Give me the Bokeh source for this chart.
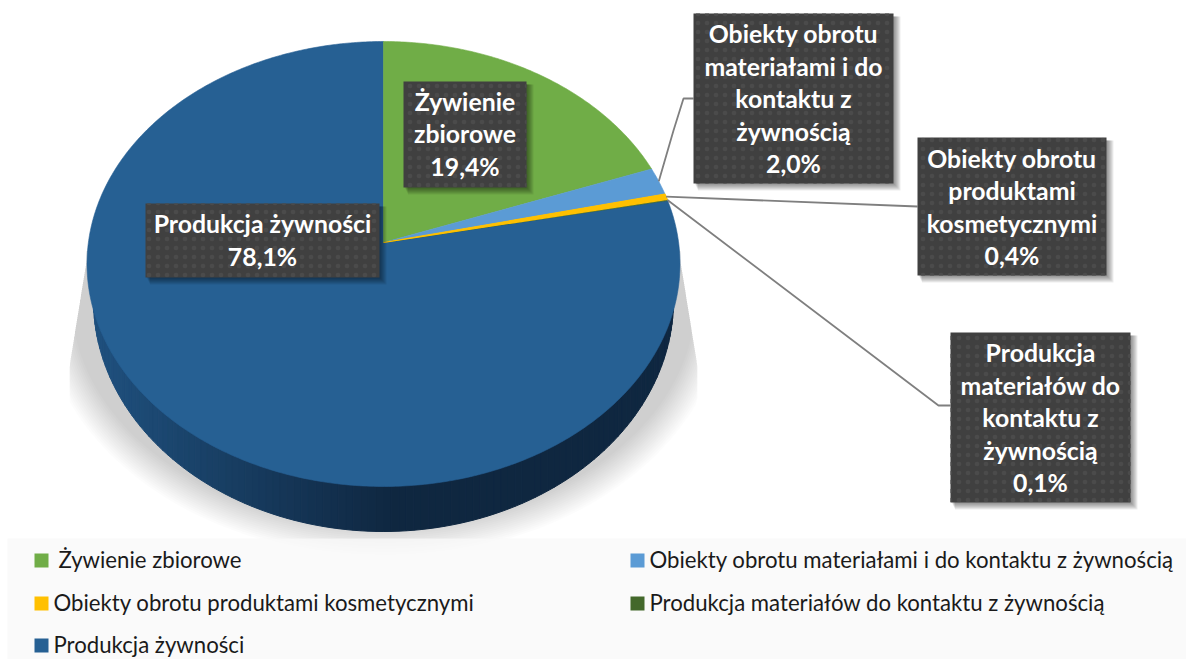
import numpy as np
from bokeh.plotting import figure
from bokeh.embed import file_html
from bokeh.resources import INLINE
from bokeh.core.properties import value

# --- data ---
categories = ["Żywienie zbiorowe", "Obiekty obrotu materiałami i do kontaktu z żywnością",
              "Obiekty obrotu produktami kosmetycznymi", "Produkcja materiałów do kontaktu z żywnością",
              "Produkcja żywności"]
shares = [19.4, 2.0, 0.4, 0.1, 78.1]
colors = ["#70ad47", "#5b9bd5", "#ffc000", "#43682b", "#266093"]
percent_labels = ["19,4%", "2,0%", "0,4%", "0,1%", "78,1%"]
label_lines = [["Żywienie", "zbiorowe"],
               ["Obiekty obrotu", "materiałami i do", "kontaktu z", "żywnością"],
               ["Obiekty obrotu", "produktami", "kosmetycznymi"],
               ["Produkcja", "materiałów do", "kontaktu z", "żywnością"],
               ["Produkcja żywności"]]

# --- layout (in reference pixels) ---
W, H = 1186, 659
p = figure(width=W, height=H, x_range=(0, W), y_range=(H, 0),
           output_backend="svg", toolbar_location=None, min_border=0,
           background_fill_color="white", border_fill_color="white")
p.axis.visible = False
p.grid.visible = False
p.outline_line_color = None

APEX_X, APEX_Y = 383.0, 242.0
K, A, B = 0.0966, 220.4, 295.1

def project(theta):
    u, v = np.sin(theta), np.cos(theta)
    d = 1 + K * v
    return APEX_X + B * u / d, APEX_Y - A * v / d

# shadow under the pie
def shadow_limit(y, x0, x1):
    t = np.clip((y - 260) / 105, 0, 1)
    return x0 + (x1 - x0) * t

ts = np.linspace(0, 2 * np.pi, 240)
levels = np.linspace(15, -15, 16)
for e in levels:
    sx = 383 + (327 + e) * np.cos(ts)
    sy = 300 + (241 + e) * np.sin(ts)
    sy = np.maximum(sy, 250)
    lo = shadow_limit(sy, 86, 69)
    hi = shadow_limit(sy, 680, 697)
    sx = np.clip(sx, lo, hi)
    p.patch(sx, sy, fill_color="black", fill_alpha=0.0128, line_color=None)

# legend band
p.quad(left=7, right=W, top=538, bottom=H, fill_color="#f8f8f8", fill_alpha=0.78, line_color=None)

# side of the pie: strips with a horizontal shade
RX2, RY2, CY2 = 290.0, 231.0, 300.0
edges = 383 - RX2 * np.cos(np.linspace(0, np.pi, 121))
bots = CY2 + RY2 * np.sqrt(np.clip(1 - ((edges - 383) / RX2) ** 2, 0, 1))
c0 = np.array([0x1f, 0x50, 0x7e]); c1 = np.array([0x0f, 0x27, 0x40])
xs_s, ys_s, cols = [], [], []
for j in range(len(edges) - 1):
    x0, x1 = edges[j], edges[j + 1]
    xs_s.append([x0, x1, x1, x0])
    ys_s.append([CY2, CY2, bots[j + 1], bots[j]])
    f = float(np.clip(((x0 + x1) / 2 - 95) / 300, 0, 1))
    cols.append("#%02x%02x%02x" % tuple(int(round(v)) for v in c0 + (c1 - c0) * f))
p.patches(xs_s, ys_s, fill_color=cols, line_color=cols, line_width=1.0)

# top face
cum = np.concatenate([[0], np.cumsum(shares)]) / sum(shares) * 2 * np.pi
for i in [4, 0, 1, 3, 2]:
    n = max(3, int((cum[i + 1] - cum[i]) * 90))
    th = np.linspace(cum[i], cum[i + 1], n)
    x, y = project(th)
    p.patch(np.r_[APEX_X, x], np.r_[APEX_Y, y], fill_color=colors[i],
            line_color=colors[i], line_width=1.2 if i == 2 else 0.6)

# leader lines
def outer(i):
    return project((cum[i] + cum[i + 1]) / 2)

leaders = {1: ([673, 683, 693], [130, 98, 98]), 2: ([917], [206]), 3: ([938, 950], [405, 405])}
for i, (lx, ly) in leaders.items():
    x0, y0 = outer(i)
    p.line(np.r_[x0, lx], np.r_[y0, ly], line_color="#7f7f7f", line_width=1.8)

# label boxes
boxes = {0: (403, 526, 81, 187), 1: (693, 893, 13, 183), 2: (917, 1106, 137, 275),
         3: (950, 1130, 332, 502), 4: (145, 379, 203, 277)}
PITCH = 32.5
for i, (l, r, t, b) in boxes.items():
    for d in range(1, 8):
        p.quad(left=l + 1 + d * 0.5, right=r + d, top=t + 3, bottom=b + d,
               fill_color="black", fill_alpha=0.07, line_color=None)
    p.quad(left=l, right=r, top=t, bottom=b, fill_color="#404040", line_color=None,
           hatch_pattern="dot", hatch_color="#4b4b4b", hatch_scale=9, hatch_weight=1)
    lines = label_lines[i] + [percent_labels[i]]
    cy = (t + b) / 2 + {0: -1.0, 2: 0.5, 4: -0.5}.get(i, 0)
    ys = cy + (np.arange(len(lines)) - (len(lines) - 1) / 2) * PITCH
    p.text(x=[(l + r) / 2] * len(lines), y=list(ys), text=lines, text_color="white",
           text_font=value("Lato"), text_font_style="bold", text_font_size="24.8px",
           text_align="center", text_baseline="middle")

# legend
leg_sq_x = [41, 637, 41, 637, 41]
leg_tx_x = [58, 649, 53, 649, 53]
leg_y = [560, 560, 603, 603, 645]
p.scatter(leg_sq_x, leg_y, marker="square", size=14, fill_color=colors, line_color=None)
p.text(x=leg_tx_x, y=[v - 1 for v in leg_y], text=categories, text_color="#1a1a1a", text_font=value("Lato"),
       text_font_size="22.2px", text_align="left", text_baseline="middle")

open("out.html", "w").write(file_html(p, INLINE))
